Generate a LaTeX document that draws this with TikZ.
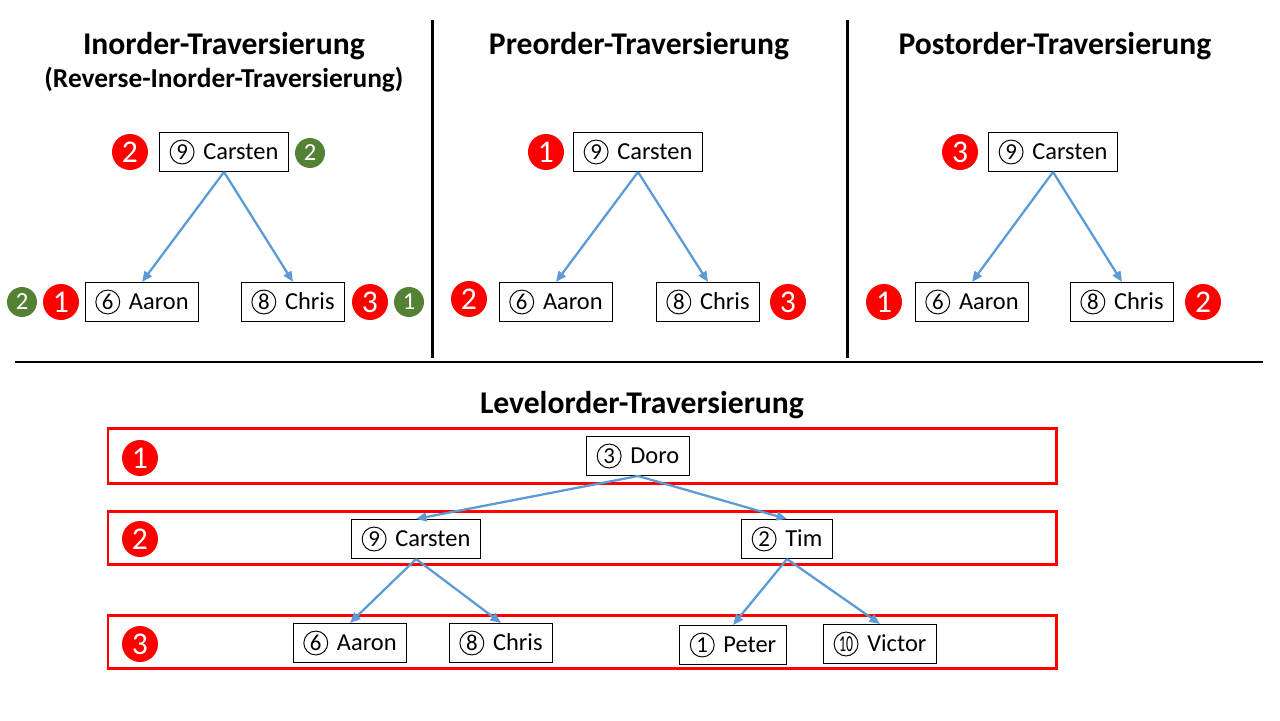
\documentclass[tikz,border=0pt]{standalone}
\usepackage{fontspec}
\setmainfont{Carlito}
\usepackage{xcolor}
\usepackage{tikz}
\usetikzlibrary{arrows.meta,shapes}

\definecolor{arrowblue}{HTML}{5B9BD5}
\definecolor{badgegreen}{HTML}{548235}
% circled number in front of a name
\newcommand{\cnum}[1]{\tikz[baseline=(n.base)]\node[circle, draw, line width=0.55pt, inner sep=0pt, minimum size=13.6pt, font=\fontsize{13}{13}\selectfont] (n) {#1};\hspace{5pt}}

\tikzset{
	person/.style={draw, line width=0.6pt, minimum height=0.78cm, inner xsep=0.2cm, inner ysep=0pt, font=\fontsize{13.9}{15}\selectfont},
	redbadge/.style={circle, fill=red, text=white, minimum size=0.72cm, inner sep=0pt, font=\fontsize{18}{18}\selectfont},
	greenbadge/.style={circle, fill=badgegreen, text=white, minimum size=0.6cm, inner sep=0pt, font=\fontsize{14}{14}\selectfont},
	heading/.style={font=\bfseries\fontsize{18}{20}\selectfont},
	subheading/.style={font=\bfseries\fontsize{15.6}{18}\selectfont},
	child/.style={-{Triangle[length=6pt,width=5pt]}, arrowblue, line width=1.3pt},
	level/.style={draw=red, line width=1.7pt},
	divider/.style={line width=1.7pt}
}

\begin{document}
\begin{tikzpicture}[x=0.02cm,y=-0.02cm]
	\useasboundingbox (0,0) rectangle (1280,720);

	% dividing lines
	\draw [divider] (432,20) -- (432,358);
	\draw [divider] (847,20) -- (847,358);
	\draw [divider] (15,362) -- (1263,362);

	% inorder
	\node [heading] (t1) at (224,46) {Inorder-Traversierung};
	\node [subheading] (t1r) at (224,80) {(Reverse-Inorder-Traversierung)};
	\node [person] (c1) at (224,152) {\cnum{9}Carsten};
	\node [person] (a1) at (142,302) {\cnum{6}Aaron};
	\node [person] (h1) at (293,302) {\cnum{8}Chris};
	\node [redbadge] (rc1) at (130,152) {2};
	\node [greenbadge] (gc1) at (310,153) {2};
	\node [greenbadge] (ga1) at (22,302) {2};
	\node [redbadge] (ra1) at (61,302) {1};
	\node [redbadge] (rh1) at (370,302) {3};
	\node [greenbadge] (gh1) at (409,302) {1};
	\draw [child] (c1.south) -- (a1.north);
	\draw [child] (c1.south) -- (h1.north);

	% preorder
	\node [heading] (t2) at (639,46) {Preorder-Traversierung};
	\node [person] (c2) at (638,152) {\cnum{9}Carsten};
	\node [person] (a2) at (556,302) {\cnum{6}Aaron};
	\node [person] (h2) at (708,302) {\cnum{8}Chris};
	\node [redbadge] (rc2) at (546,152) {1};
	\node [redbadge] (ra2) at (469,299) {2};
	\node [redbadge] (rh2) at (788,302) {3};
	\draw [child] (c2.south) -- (a2.north);
	\draw [child] (c2.south) -- (h2.north);

	% postorder
	\node [heading] (t3) at (1055,46) {Postorder-Traversierung};
	\node [person] (c3) at (1053,152) {\cnum{9}Carsten};
	\node [person] (a3) at (972,302) {\cnum{6}Aaron};
	\node [person] (h3) at (1122,302) {\cnum{8}Chris};
	\node [redbadge] (rc3) at (960,152) {3};
	\node [redbadge] (ra3) at (884,302) {1};
	\node [redbadge] (rh3) at (1203,302) {2};
	\draw [child] (c3.south) -- (a3.north);
	\draw [child] (c3.south) -- (h3.north);

	% levelorder
	\node [heading] (t4) at (642,405) {Levelorder-Traversierung};
	\draw [level] (108,428) rectangle (1056,483);
	\draw [level] (108,511) rectangle (1056,564);
	\draw [level] (108,615) rectangle (1056,668);
	\node [redbadge] (l1) at (140,458) {1};
	\node [redbadge] (l2) at (140,539) {2};
	\node [redbadge] (l3) at (140,644) {3};
	\node [person] (d) at (638,456) {\cnum{3}Doro};
	\node [person] (c) at (416,539) {\cnum{9}Carsten};
	\node [person] (t) at (787,539) {\cnum{2}Tim};
	\node [person] (a) at (350,643) {\cnum{6}Aaron};
	\node [person] (h) at (501,643) {\cnum{8}Chris};
	\node [person] (p) at (733,645) {\cnum{1}Peter};
	\node [person] (v) at (880,644) {\cnum{\scalebox{0.6}[1]{10}}Victor};
	\draw [child] (d.south) -- (c.north);
	\draw [child] (d.south) -- (t.north);
	\draw [child] (c.south) -- (a.north);
	\draw [child] (c.south) -- (h.north);
	\draw [child] (t.south) -- (p.north);
	\draw [child] (t.south) -- (v.north);
\end{tikzpicture}
\end{document}
